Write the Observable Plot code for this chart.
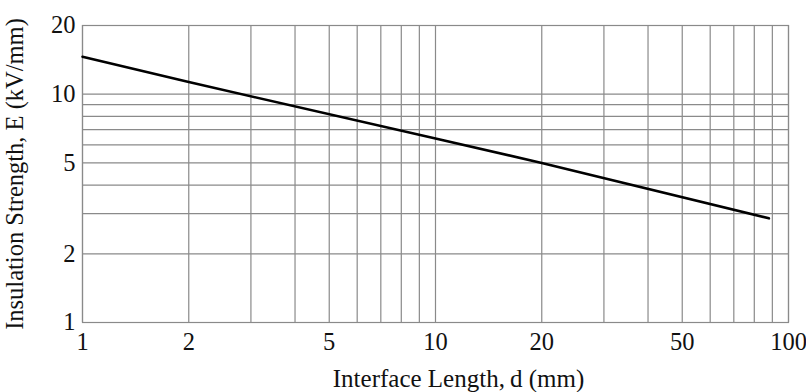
<!DOCTYPE html>
<html>
<head>
<meta charset="utf-8">
<script src="https://cdn.jsdelivr.net/npm/d3@7"></script>
<script src="https://cdn.jsdelivr.net/npm/@observablehq/plot@0.6"></script>
<style>
  html, body { margin: 0; padding: 0; background: #fff; }
  #chart svg { display: block; }
</style>
</head>
<body>
<div id="chart"></div>
<script>
// Curve values
const lengthMm = [1, 2, 10, 20, 88];
const strengthKvMm = [14.6, 11.3, 6.4, 5.0, 2.86];

// Grid and tick values
const xGrid = [1, 2, 3, 4, 5, 6, 7, 8, 9, 10, 20, 30, 40, 50, 60, 70, 80, 90, 100];
const yGrid = [1, 2, 3, 4, 5, 6, 7, 8, 9, 10, 20];
const xTicks = [1, 2, 5, 10, 20, 50, 100];
const yTicks = [1, 2, 5, 10, 20];
const xTitle = "Interface Length,\u2009d (mm)";
const yTitle = "Insulation Strength, E (kV/mm)";

const data = lengthMm.map((d, i) => ({d, e: strengthKvMm[i]}));

const chart = Plot.plot({
  width: 806,
  height: 392,
  marginLeft: 82,
  marginRight: 18,
  marginTop: 25,
  marginBottom: 70,
  style: {fontFamily: "'Liberation Serif', 'Times New Roman', serif", fontSize: "24.5px", color: "#111", background: "#fff"},
  x: {type: "log", domain: [1, 100], ticks: xTicks, tickFormat: d => String(d), tickSize: 0, tickPadding: 10, label: null},
  y: {type: "log", domain: [1, 20], ticks: yTicks, tickFormat: d => String(d), tickSize: 0, tickPadding: 7,
      label: yTitle, labelAnchor: "center", labelOffset: 77, labelArrow: "none"},
  marks: [
    Plot.ruleX(xGrid, {stroke: "#8a8a8a", strokeWidth: 1.2}),
    Plot.ruleY(yGrid, {stroke: "#8a8a8a", strokeWidth: 1.2}),
    Plot.frame({stroke: "#8a8a8a", strokeWidth: 1.2}),
    Plot.line(data, {x: "d", y: "e", stroke: "#000", strokeWidth: 2.6}),
    Plot.text([xTitle], {frameAnchor: "bottom", text: d => d, dx: 23, dy: 56, lineAnchor: "middle",
      textAnchor: "middle", fontSize: 25, fill: "#111"})
  ]
});
document.getElementById("chart").append(chart);
</script>
</body>
</html>
